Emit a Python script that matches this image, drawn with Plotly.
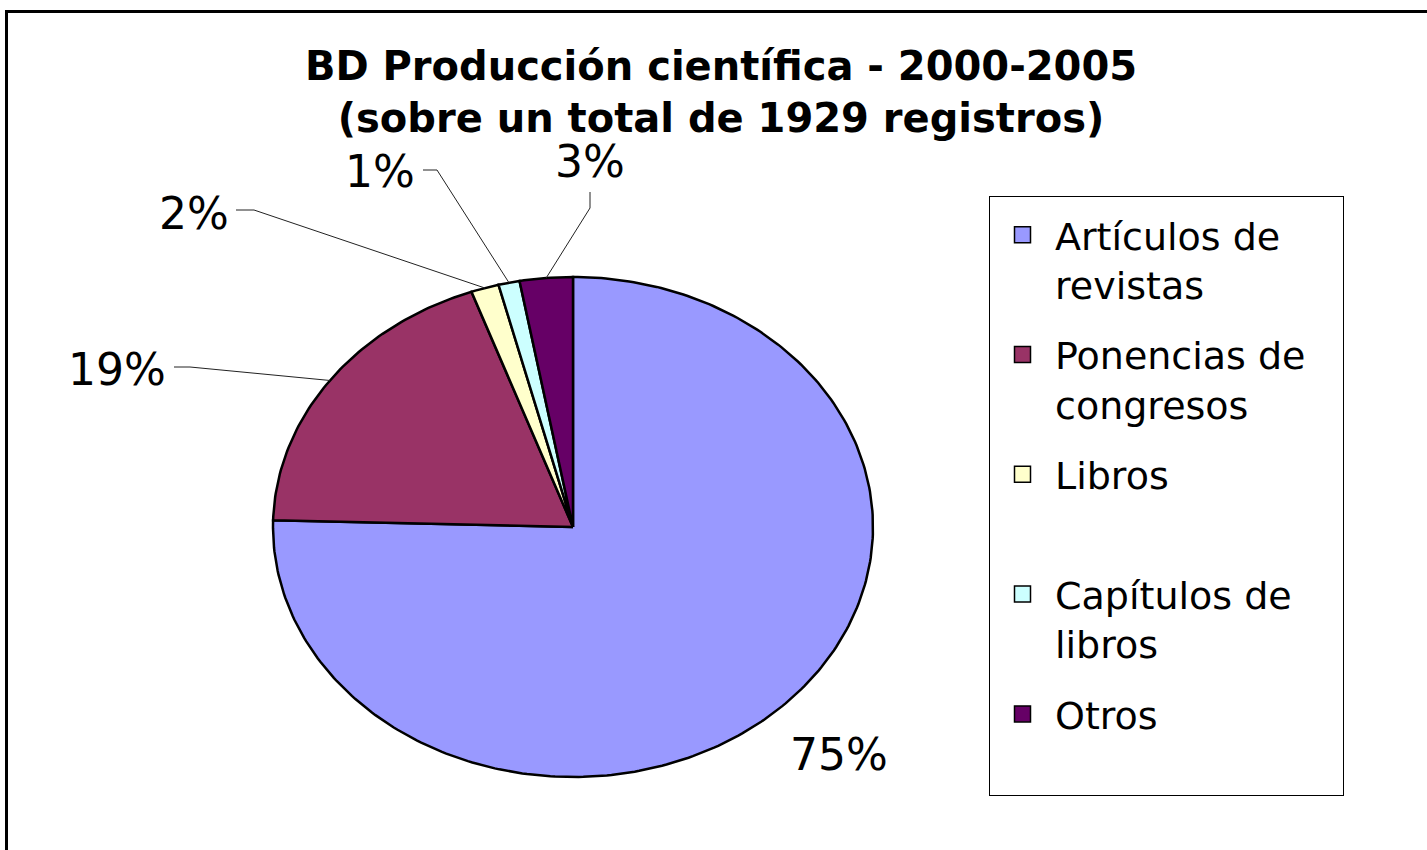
import numpy as np
import plotly.graph_objects as go

# ---------------- data ----------------
categories = ["Artículos de revistas", "Ponencias de congresos", "Libros",
              "Capítulos de libros", "Otros"]
legend_labels = ["Artículos de<br>revistas", "Ponencias de\u00a0\u00a0\u2009<br>congresos",
                 "Libros<br>\u00a0", "Capítulos de<br>libros", "Otros<br>\u00a0"]
counts = [1455, 368, 29, 22, 55]          # total 1929 registros
colors = ["#9999FF", "#993366", "#FFFFCC", "#CCFFFF", "#660066"]
title_lines = ["BD Producción científica - 2000-2005", "(sobre un total de 1929 registros)"]

# ---------------- layout / style ----------------
W, H = 1427, 850
CX, CY, RX, RY = 573, 527, 300, 250       # pixel placement of the pie (style)
FONT = "DejaVu Sans"

def px2x(px):
    return (px - CX) / RX

def px2y(py):
    return (CY - py) / RY

# label text centres and leader-line (elbow, end) points, in pixels (style)
label_px = [(839, 754), (117, 369), (194, 213), (380, 171), (590, 161)]
leader_px = [None, [(190, 367), (174, 367)], [(254, 210), (236, 210)],
             [(437, 170), (423, 170)], [(590, 208), (590, 192)]]

total = sum(counts)
fracs = [c / total for c in counts]
cum = np.concatenate([[0], np.cumsum(fracs)])

fig = go.Figure()

# slices: clockwise from 12 o'clock, unit radius in data space
for i, (f0, f1) in enumerate(zip(cum[:-1], cum[1:])):
    th = np.linspace(2 * np.pi * f0, 2 * np.pi * f1, max(3, int(400 * (f1 - f0)) + 2))
    xs = np.concatenate([[0], np.sin(th), [0]])
    ys = np.concatenate([[0], np.cos(th), [0]])
    fig.add_trace(go.Scatter(x=xs, y=ys, mode="lines", fill="toself",
                             fillcolor=colors[i], line=dict(color="black", width=2.5),
                             showlegend=False, hoverinfo="skip"))

# leader lines
for i, pts in enumerate(leader_px):
    if pts is None:
        continue
    thm = np.pi * (cum[i] + cum[i + 1])
    lx = [np.sin(thm)] + [px2x(p[0]) for p in pts]
    ly = [np.cos(thm)] + [px2y(p[1]) for p in pts]
    fig.add_trace(go.Scatter(x=lx, y=ly, mode="lines", line=dict(color="#222222", width=1),
                             showlegend=False, hoverinfo="skip"))

# percentage labels
for i, f in enumerate(fracs):
    fig.add_annotation(x=px2x(label_px[i][0]), y=px2y(label_px[i][1]), xref="x", yref="y",
                       text=f"{int(f * 100 + 0.5)}%", showarrow=False,
                       font=dict(family=FONT, size=44, color="black"),
                       xanchor="center", yanchor="middle")

# legend entries
for i, lab in enumerate(legend_labels):
    fig.add_trace(go.Scatter(x=[None], y=[None], mode="markers", name=lab,
                             legendgroup=str(i),
                             marker=dict(symbol="square", size=16, color=colors[i],
                                         line=dict(color="black", width=1.5))))

# outer frame
fig.add_shape(type="rect", xref="paper", yref="paper",
              x0=6.5 / W, x1=1.05, y0=-0.05, y1=1 - 11.5 / H,
              line=dict(color="black", width=3), fillcolor="rgba(0,0,0,0)")

fig.update_layout(
    width=W, height=H,
    margin=dict(l=0, r=0, t=0, b=0),
    paper_bgcolor="white", plot_bgcolor="white",
    title=dict(text="<b>" + "<br>".join(title_lines) + "</b>",
               x=721 / W, xanchor="center", xref="paper",
               y=1 - 80 / H, yanchor="top", yref="paper",
               font=dict(family=FONT, size=40, color="black")),
    xaxis=dict(range=[px2x(0), px2x(W)], domain=[0, 1], visible=False, fixedrange=True),
    yaxis=dict(range=[px2y(H), px2y(0)], domain=[0, 1], visible=False, fixedrange=True),
    legend=dict(x=989 / W, y=1 - 196 / H, xanchor="left", yanchor="top",
                bgcolor="white", bordercolor="black", borderwidth=1,
                font=dict(family=FONT, size=38, color="black"),
                title=dict(text="\u00a0", font=dict(size=5)),
                itemwidth=55, valign="top", tracegroupgap=18),
    showlegend=True,
)

fig.write_html("out.html", config={"displayModeBar": False},
               post_script="document.body.style.margin='0px';")
